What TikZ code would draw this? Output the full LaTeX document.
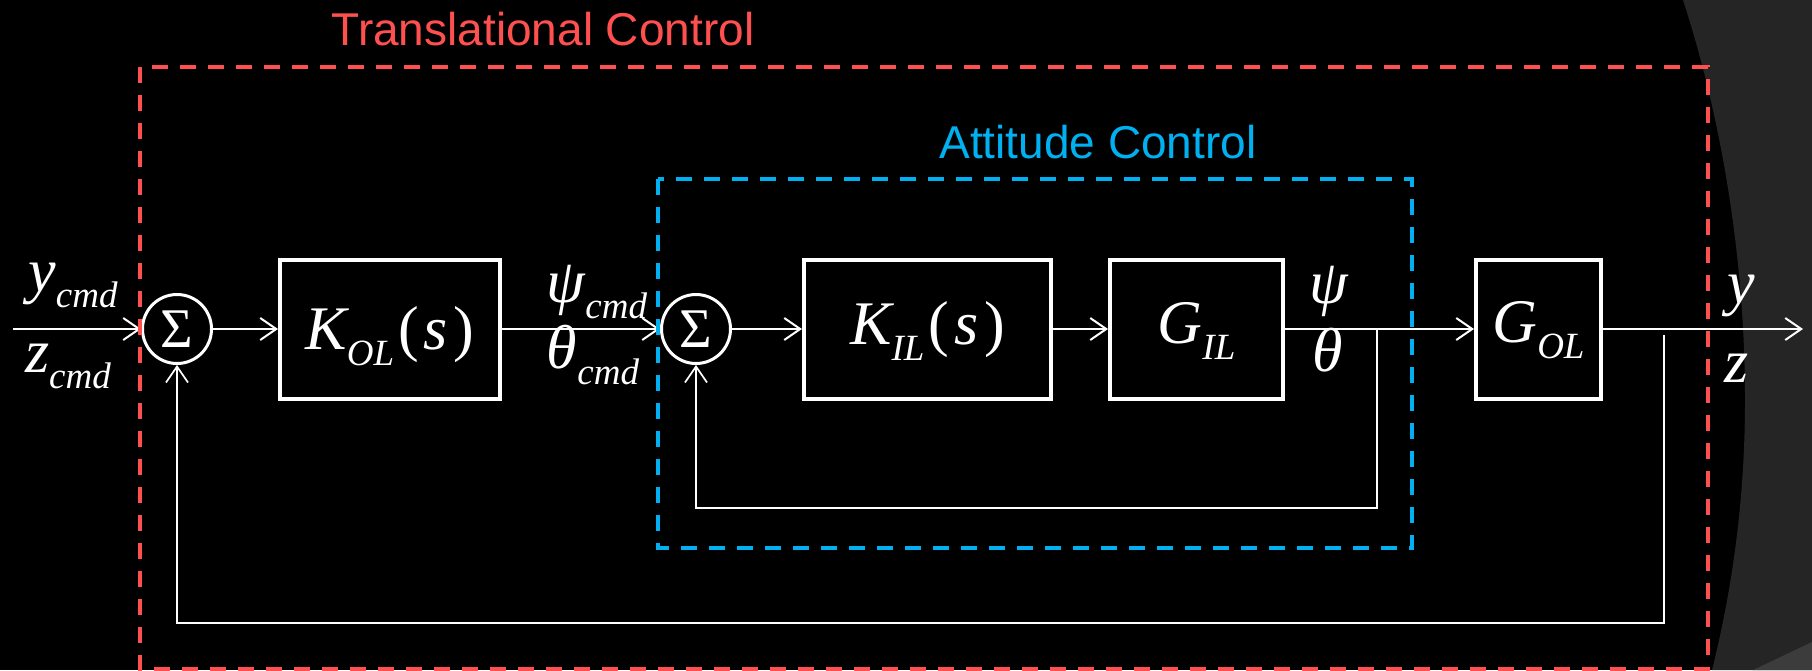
\documentclass[tikz,border=0pt]{standalone}
\usepackage{fontspec}
\setmainfont{Liberation Serif}
\newfontfamily\sansf{Liberation Sans}
\usetikzlibrary{arrows.meta}
\definecolor{tred}{RGB}{255,80,80}
\definecolor{tblue}{RGB}{0,176,240}
\definecolor{bgray}{RGB}{37,37,37}
\definecolor{lgray}{RGB}{60,60,60}
\newcommand{\bigfnt}{\fontsize{62}{62}\selectfont}
\newcommand{\subfnt}{\fontsize{37}{37}\selectfont}
\newcommand{\symsub}[2]{{\bigfnt\itshape #1}\raisebox{-16pt}{\subfnt\itshape #2}}
\newcommand{\argS}{{\bigfnt\kern4pt(\kern5pt\textit{s}\kern6pt)}}
\begin{document}
\begin{tikzpicture}[x=1pt,y=-1pt,
  blk/.style={draw=white, line width=4pt, minimum height=139, inner sep=0},
  sumc/.style={circle, draw=white, line width=3pt, minimum size=69, inner sep=0, text=white, font=\fontsize{56}{56}\selectfont},
  lbl/.style={text=white, anchor=base, inner sep=0},
  fwd/.style={draw=white, line width=2pt, -{Straight Barb[length=16pt,width=22pt]}},
  fbk/.style={draw=white, line width=1.7pt},
  fbka/.style={fbk, -{Straight Barb[length=16pt,width=22pt]}},
  ttl/.style={font=\sansf\fontsize{46}{46}\selectfont, anchor=base, inner sep=0},
  redbox/.style={draw=tred, line width=4pt, dash pattern=on 16pt off 12pt},
  bluebox/.style={draw=tblue, line width=4pt, dash pattern=on 16pt off 12pt},
]
\useasboundingbox (0,0) rectangle (1812,670);
\fill[black] (0,0) rectangle (1812,670);
\fill[bgray] (1683,0) .. controls (1722,120) and (1745,260) .. (1745,400)
  .. controls (1745,500) and (1732,590) .. (1712,670) -- (1812,670) -- (1812,0) -- cycle;
\fill[lgray] (1812,642) -- (1753,670) -- (1812,670) -- cycle;

% blocks
\node[sumc] (s1) at (177,329) {Σ};
\node[blk, minimum width=220] (kol) at (390,329) {};
\node[sumc] (s2) at (696,329) {Σ};
\node[blk, minimum width=247] (kil) at (927.5,329) {};
\node[blk, minimum width=173] (gil) at (1196.5,329) {};
\node[blk, minimum width=125] (gol) at (1538.5,329) {};

\node[lbl] (kolt) at ([yshift=-20]kol.center) {\symsub{K}{OL}\argS};
\node[lbl] (kilt) at ([yshift=-15]kil.center) {\symsub{K}{IL}\argS};
\node[lbl] (gilt) at ([yshift=-14]gil.center) {\symsub{G}{IL}};
\node[lbl] (golt) at ([yshift=-13]gol.center) {\symsub{G}{OL}};

% signal labels
\node[lbl] (ycmd) at (73,291) {\symsub{y}{cmd}};
\node[lbl] (zcmd) at (68,372) {\symsub{z}{cmd}};
\node[lbl] (psicmd) at (597,302) {\symsub{ψ}{cmd}};
\node[lbl] (thcmd) at (593,368) {\symsub{θ}{cmd}};
\node[lbl] (psio) at (1329,303) {\bigfnt\itshape ψ};
\node[lbl] (tho) at (1328,371) {\bigfnt\itshape θ};
\node[lbl] (yo) at (1741,303) {\bigfnt\itshape y};
\node[lbl] (zo) at (1737,382) {\bigfnt\itshape z};

% coordinates
\coordinate (in) at (13,329);
\coordinate (out) at (1803,329);
\coordinate (b1) at (1377,329);
\coordinate (f1) at (1377,508);
\coordinate (b2) at (1664,335);
\coordinate (f2) at (1664,623);

% forward path
\draw[fwd] (in) -- (s1.west);
\draw[fwd] (s1.east) -- (kol.west);
\draw[fwd] (kol.east) -- (s2.west);
\draw[fwd] (s2.east) -- (kil.west);
\draw[fwd] (kil.east) -- (gil.west);
\draw[fwd] (gil.east) -- (gol.west);
\draw[fwd] (gol.east) -- (out);

% feedback
\draw[fbka] (b1) -- (f1) -| (s2.south);
\draw[fbka] (b2) -- (f2) -| (s1.south);

% grouping boxes
\draw[redbox] (140,67) rectangle (1708,669);
\draw[bluebox] (658,179) rectangle (1412,548);
\node[ttl, text=tred] (t1) at (543,45) {Translational Control};
\node[ttl, text=tblue] (t2) at (1098,158) {Attitude Control};
\end{tikzpicture}
\end{document}
